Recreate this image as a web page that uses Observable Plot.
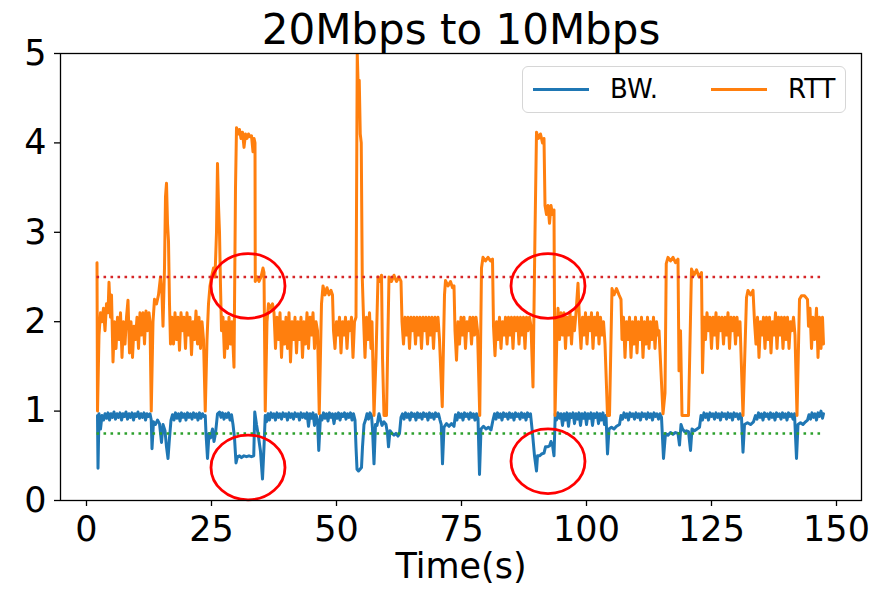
<!DOCTYPE html>
<html>
<head>
<meta charset="utf-8">
<script src="https://cdn.jsdelivr.net/npm/d3@7"></script>
<script src="https://cdn.jsdelivr.net/npm/@observablehq/plot@0.6"></script>
<style>
  body { margin: 0; background: #fff; }
  #chart { position: relative; width: 882px; height: 589px; font-family: "DejaVu Sans", sans-serif; }
  #chart svg { display: block; }
  .legend { position: absolute; left: 522px; top: 66px; width: 322px; height: 45px;
            border: 1.5px solid #d6d6d6; border-radius: 6px; background: rgba(255,255,255,0.85);
            font-family: "DejaVu Sans", sans-serif; font-size: 26px; color: #000; }
  .legend .sw { position: absolute; top: 21px; height: 3px; width: 56px; }
  .legend .lb { position: absolute; top: 5px; line-height: 34px; }
</style>
</head>
<body>
<div id="chart"></div>
<script>
// Title, axis ticks and series names
const title = "20Mbps to 10Mbps";
const xLabel = "Time(s)";
const xTicks = [0, 25, 50, 75, 100, 125, 150];
const yTicks = [0, 1, 2, 3, 4, 5];
const seriesNames = ["BW.", "RTT"];
const seriesColors = ["#1f77b4", "#ff7f0e"];

// Threshold levels (dotted guides)
const rttLimit = 2.5;
const bwLimit = 0.75;

// Highlighted regions [time, value]
const highlights = [[32.3, 2.40], [32.3, 0.37], [92.3, 2.40], [92.3, 0.44]];

// Round-trip time samples [time (s), value]
const rtt = [
  [2.1,2.66],[2.2,1.0],[2.5,1.85],[2.8,2.1],[3.1,2.0],[3.4,2.15],[3.7,1.9],[4.0,2.2],[4.3,2.1],[4.5,2.44],[4.8,2.05],[5.0,2.3],[5.3,1.55],[5.6,2.0],[5.9,1.7],[6.2,2.05],[6.5,1.8],[6.8,2.1],[7.1,1.6],[7.4,2.0],[7.7,1.75],[8.0,2.05],[8.3,2.24],[8.6,1.65],[8.9,2.0],[9.2,1.6],[9.5,1.95],[9.8,1.8],[10.1,2.05],[10.4,1.7],[10.7,2.1],[11.0,1.85],[11.3,2.1],[11.6,1.75],[11.9,2.12],[12.2,1.9],[12.5,2.1],[12.7,2.0],
  [12.95,1.0],[13.3,2.0],[13.6,2.25],[14.0,2.2],[14.4,2.3],[14.8,2.5],[15.1,2.3],[15.3,1.95],[15.6,2.6],[15.8,3.4],[16.0,3.55],[16.2,3.1],[16.4,2.9],[16.6,2.2],[16.8,1.75],[17.1,2.05],[17.4,1.75],[17.7,2.1],[18.0,1.8],[18.3,2.05],[18.6,1.68],[18.9,2.1],[19.2,1.9],[19.5,2.05],[19.8,1.7],[20.1,2.1],[20.4,1.85],[20.7,2.05],[21.0,1.63],[21.3,2.0],[21.6,1.8],[21.9,2.12],[22.2,1.75],[22.5,2.05],[22.8,1.7],[23.1,2.0],[23.4,1.8],
  [23.75,1.0],[24.1,1.8],[24.4,2.2],[24.7,2.4],[25.0,2.5],[25.4,2.6],[25.7,2.5],[26.0,3.0],[26.2,3.77],[26.4,3.3],[26.6,3.0],[26.8,2.4],[27.0,1.9],[27.3,2.05],[27.6,1.6],[27.9,2.0],[28.2,1.7],[28.5,2.05],[28.8,1.75],[29.1,2.0],
  [29.5,1.49],[29.8,3.5],[30.0,4.17],[30.3,4.1],[30.6,4.15],[30.9,4.05],[31.2,4.12],[31.5,3.95],[31.8,4.1],[32.1,4.05],[32.4,4.1],[32.7,4.07],[33.0,4.08],[33.3,3.9],[33.5,4.05],[33.7,4.0],[33.75,2.45],[34.1,2.5],[34.5,2.45],[34.9,2.5],[35.3,2.6],[35.5,2.55],
  [35.75,1.0],[36.1,2.0],[36.4,2.2],[36.8,2.15],[37.2,2.2],[37.5,2.1],[37.8,1.7],[38.1,2.05],[38.4,1.8],[38.7,2.1],[39.0,1.6],[39.3,2.0],[39.6,1.75],[39.9,2.05],[40.2,1.7],[40.5,2.1],[40.8,1.55],[41.1,2.0],[41.4,1.8],[41.7,2.05],[42.0,1.65],[42.3,2.0],[42.6,1.8],[42.9,2.05],[43.2,1.6],[43.5,2.0],[43.8,1.75],[44.1,2.1],[44.4,1.7],[44.7,2.05],[45.0,1.85],[45.3,2.1],[45.6,1.7],[45.9,2.0],[46.2,1.9],
  [46.55,0.97],[47.0,2.2],[47.3,2.4],[47.7,2.3],[48.1,2.38],[48.5,2.3],[48.9,2.35],[49.2,2.3],[49.4,1.9],[49.7,1.7],[50.0,2.0],[50.3,1.85],[50.6,2.05],[50.9,1.65],[51.2,2.0],[51.5,1.85],[51.8,2.05],[52.1,1.7],[52.4,2.0],[52.7,1.9],[53.0,2.05],[53.3,1.6],[53.6,2.0],[53.9,2.05],
  [54.15,5.0],[54.35,4.6],[54.55,4.7],[54.75,4.1],[54.95,4.0],[55.15,2.5],[55.4,2.05],[55.7,1.6],[56.0,2.05],[56.3,1.8],[56.6,2.1],[56.9,1.7],[57.1,2.0],
  [57.5,0.95],[57.9,1.6],[58.3,2.5],[58.6,2.45],[59.0,2.52],[59.2,1.6],[59.5,0.95],[60.0,0.95],[60.3,1.9],[60.5,2.5],[61.0,2.45],[61.5,2.52],[62.0,2.45],[62.5,2.5],[62.9,2.45],[63.1,2.0],[63.4,1.75],[63.7,2.05],[64.0,1.85],[64.3,2.05],[64.6,1.7],[64.9,2.05],[65.2,1.9],[65.5,2.05],[65.8,1.75],[66.1,2.05],[66.4,1.85],[66.7,2.05],[67.0,1.7],[67.3,2.05],[67.6,1.9],[67.9,2.05],[68.2,1.75],[68.5,2.05],[68.8,1.85],[69.1,2.05],[69.4,1.7],[69.7,2.05],[70.0,1.9],[70.3,2.05],[70.6,1.8],
  [71.15,1.05],[71.6,2.3],[71.8,2.46],[72.3,2.4],[72.8,2.45],[73.2,2.38],[73.5,2.4],[73.7,1.9],[74.0,1.57],[74.3,2.0],[74.6,1.75],[74.9,2.05],[75.2,1.85],[75.5,2.05],[75.8,1.7],[76.1,2.0],[76.4,1.9],[76.7,2.05],[77.0,1.75],[77.3,2.05],[77.6,1.85],[77.9,2.05],[78.2,1.9],
  [78.65,0.95],[79.0,2.6],[79.3,2.72],[79.8,2.68],[80.3,2.72],[80.8,2.68],[81.2,2.7],[81.4,1.95],[81.7,1.62],[82.0,2.0],[82.3,1.8],[82.6,2.05],[82.9,1.7],[83.2,2.0],[83.5,1.85],[83.8,2.05],[84.1,1.75],[84.4,2.05],[84.7,1.85],[85.0,2.05],[85.3,1.7],[85.6,2.05],[85.9,1.9],[86.2,2.05],[86.5,1.75],[86.8,2.05],[87.1,1.85],[87.4,2.05],[87.7,1.7],[88.0,2.05],[88.3,1.9],[88.6,2.05],[88.9,1.95],
  [89.3,1.27],[89.7,3.0],[90.0,4.12],[90.4,4.05],[90.8,4.1],[91.2,4.0],[91.5,4.05],[91.7,3.3],[92.0,3.2],[92.3,3.3],[92.6,3.1],[92.9,3.3],[93.2,3.2],[93.5,3.25],
  [93.7,0.95],[94.1,1.9],[94.3,2.15],[94.6,1.8],[94.9,2.1],[95.2,1.85],[95.5,2.1],[95.8,1.7],[96.1,2.05],[96.4,1.85],[96.7,2.1],[97.0,1.75],[97.3,2.05],[97.6,1.9],[97.9,2.1],[98.3,2.43],[98.6,2.0],[98.9,1.7],[99.2,2.05],[99.5,1.85],[99.8,2.1],[100.1,1.75],[100.4,2.05],[100.7,1.9],[101.0,2.1],[101.3,1.7],[101.6,2.05],[101.9,1.85],[102.2,2.1],[102.5,1.75],[102.8,2.05],[103.1,1.85],[103.4,2.0],[103.7,1.75],
  [104.2,0.95],[104.6,0.95],[105.1,2.37],[105.5,2.3],[106.0,2.37],[106.5,2.3],[106.9,2.25],[107.1,1.8],[107.4,2.05],[107.7,1.6],[108.0,2.0],[108.3,1.8],[108.6,2.05],[108.9,1.6],[109.2,2.0],[109.5,1.75],[109.8,2.05],[110.1,1.65],[110.4,2.0],[110.7,1.8],[111.0,2.05],[111.3,1.6],[111.6,2.0],[111.9,1.75],[112.2,2.05],[112.5,1.7],[112.8,2.0],[113.1,1.8],[113.4,2.05],[113.7,1.7],[114.0,2.0],[114.3,1.85],[114.5,1.9],
  [115.3,0.97],[115.7,1.2],[115.95,2.65],[116.3,2.72],[116.8,2.68],[117.3,2.72],[117.8,2.66],[118.3,2.7],[118.5,1.45],[118.8,1.9],[119.1,0.95],[120.4,0.95],[121.0,2.59],[121.5,2.52],[122.0,2.58],[122.5,2.5],[123.0,2.55],[123.2,1.43],[123.5,2.05],[123.8,1.8],[124.1,2.1],[124.4,1.9],[124.7,2.05],[125.0,1.7],[125.3,2.05],[125.6,1.85],[125.9,2.1],[126.2,1.7],[126.5,2.05],[126.8,1.9],[127.1,2.05],[127.4,1.75],[127.7,2.05],[128.0,1.85],[128.3,2.1],[128.6,1.7],[128.9,2.05],[129.2,1.9],[129.5,2.05],[129.8,1.75],[130.1,2.05],[130.4,1.85],[130.7,2.0],
  [131.3,0.95],[132.0,2.27],[132.3,2.35],[132.8,2.3],[133.3,2.35],[133.6,2.0],[133.9,1.75],[134.2,2.05],[134.5,1.6],[134.8,2.0],[135.1,1.85],[135.4,2.05],[135.7,1.7],[136.0,2.05],[136.3,1.8],[136.6,2.05],[136.9,1.65],[137.2,2.0],[137.5,1.85],[137.8,2.1],[138.1,1.7],[138.4,2.05],[138.7,1.85],[139.0,2.05],[139.3,1.7],[139.6,2.05],[139.9,1.8],[140.2,2.05],[140.5,1.7],[140.8,2.0],[141.1,1.9],[141.4,2.05],[141.7,1.85],
  [142.1,0.95],[142.6,2.25],[143.0,2.29],[143.6,2.29],[144.2,2.25],[144.4,1.95],[144.7,2.15],[145.0,1.7],[145.3,2.05],[145.6,1.8],[146.0,2.15],[146.3,1.6],[146.6,2.05],[146.9,1.7],[147.2,2.05],[147.4,1.75]
];

// Bandwidth samples [time (s), value]
const bw = [
  [2.2,0.95],[2.3,0.36],[2.5,0.97],[2.8,0.8],[3.1,0.95],[3.4,0.9],[3.7,0.97],[4.0,0.92],[4.3,0.98],[4.6,0.9],[4.9,0.97],[5.2,0.93],[5.5,0.99],[5.8,0.91],[6.1,0.97],[6.4,0.93],[6.7,0.98],[7.0,0.9],[7.3,0.97],[7.6,0.94],[7.9,0.99],[8.2,0.91],[8.5,0.97],[8.8,0.93],[9.1,0.98],[9.4,0.9],[9.7,0.97],[10.0,0.94],[10.3,0.99],[10.6,0.92],[10.9,0.97],[11.2,0.93],[11.5,0.98],[11.8,0.9],[12.1,0.97],[12.4,0.94],[12.7,0.97],
  [12.95,0.9],[13.1,0.58],[13.4,0.88],[13.8,0.85],[14.2,0.9],[14.6,0.86],[15.0,0.65],[15.3,0.85],[15.7,0.78],[16.0,0.6],[16.3,0.47],[16.6,0.7],[16.9,0.9],[17.2,0.96],[17.5,0.9],[17.8,0.98],[18.1,0.92],[18.4,0.97],[18.7,0.89],[19.0,0.98],[19.3,0.93],[19.6,0.97],[19.9,0.9],[20.2,0.98],[20.5,0.93],[20.8,0.97],[21.1,0.91],[21.4,0.98],[21.7,0.93],[22.0,0.97],[22.3,0.9],[22.6,0.98],[22.9,0.92],[23.2,0.97],[23.5,0.94],
  [23.75,0.95],[23.9,0.75],[24.2,0.47],[24.5,0.75],[24.8,0.7],[25.2,0.8],[25.5,0.66],[25.8,0.75],[26.2,0.97],[26.6,0.99],[26.9,0.93],[27.2,0.98],[27.5,0.91],[27.8,0.97],[28.1,0.93],[28.4,0.98],[28.7,0.9],[29.0,0.96],[29.3,0.85],
  [29.6,0.7],[29.9,0.42],[30.2,0.49],[30.6,0.5],[31.0,0.48],[31.5,0.5],[32.0,0.49],[32.5,0.5],[33.0,0.49],[33.45,0.5],[33.65,0.99],[34.0,0.85],[34.3,0.75],[34.8,0.55],[35.2,0.24],[35.5,0.6],
  [35.75,0.95],[36.0,0.88],[36.3,0.97],[36.6,0.9],[36.9,0.98],[37.2,0.93],[37.5,0.97],[37.8,0.9],[38.1,0.98],[38.4,0.93],[38.7,0.97],[39.0,0.91],[39.3,0.98],[39.6,0.94],[39.9,0.97],[40.2,0.9],[40.5,0.98],[40.8,0.93],[41.1,0.97],[41.4,0.91],[41.7,0.98],[42.0,0.94],[42.3,0.97],[42.6,0.9],[42.9,0.98],[43.2,0.93],[43.5,0.97],[43.8,0.92],[44.1,0.98],[44.4,0.83],[44.7,0.97],[45.0,0.92],[45.3,0.98],[45.6,0.84],[45.9,0.96],[46.2,0.9],
  [46.45,0.56],[46.8,0.95],[47.1,0.9],[47.4,0.98],[47.7,0.92],[48.0,0.97],[48.3,0.89],[48.6,0.98],[48.9,0.93],[49.2,0.97],[49.5,0.86],[49.8,0.97],[50.1,0.92],[50.4,0.98],[50.7,0.9],[51.0,0.97],[51.3,0.94],[51.6,0.98],[51.9,0.91],[52.2,0.97],[52.5,0.93],[52.8,0.98],[53.1,0.9],[53.4,0.97],[53.7,0.9],
  [53.9,0.6],[54.1,0.35],[54.4,0.33],[54.7,0.35],[55.0,0.37],[55.2,0.6],[55.5,0.85],[55.8,0.9],[56.1,0.97],[56.4,0.91],[56.7,0.98],[57.0,0.95],[57.2,0.8],[57.5,0.41],[57.8,0.85],[58.1,0.84],[58.5,0.97],[58.8,0.9],[59.1,0.84],[59.5,0.88],[59.9,0.85],[60.2,0.75],[60.4,0.6],[60.7,0.78],[61.1,0.75],[61.5,0.73],[61.9,0.75],[62.3,0.72],[62.6,0.75],
  [62.9,0.93],[63.2,0.97],[63.5,0.91],[63.8,0.98],[64.1,0.93],[64.4,0.97],[64.7,0.9],[65.0,0.98],[65.3,0.94],[65.6,0.97],[65.9,0.9],[66.2,0.98],[66.5,0.93],[66.8,0.97],[67.1,0.91],[67.4,0.98],[67.7,0.94],[68.0,0.97],[68.3,0.9],[68.6,0.98],[68.9,0.93],[69.2,0.97],[69.5,0.91],[69.8,0.98],[70.1,0.94],[70.4,0.97],[70.7,0.9],[70.95,0.85],
  [71.2,0.41],[71.5,0.82],[72.0,0.86],[72.5,0.83],[73.0,0.86],[73.5,0.83],[73.8,0.96],[74.1,0.9],[74.4,0.98],[74.7,0.93],[75.0,0.97],[75.3,0.9],[75.6,0.98],[75.9,0.94],[76.2,0.97],[76.5,0.91],[76.8,0.98],[77.1,0.93],[77.4,0.97],[77.7,0.9],[78.0,0.97],[78.3,0.92],
  [78.6,0.29],[78.9,0.8],[79.4,0.83],[79.9,0.8],[80.4,0.82],[80.9,0.79],[81.3,0.9],[81.6,0.97],[81.9,0.91],[82.2,0.98],[82.5,0.93],[82.8,0.97],[83.1,0.9],[83.4,0.98],[83.7,0.94],[84.0,0.97],[84.3,0.91],[84.6,0.98],[84.9,0.93],[85.2,0.97],[85.5,0.9],[85.8,0.98],[86.1,0.94],[86.4,0.97],[86.7,0.91],[87.0,0.98],[87.3,0.93],[87.6,0.97],[87.9,0.9],[88.2,0.98],[88.5,0.94],[88.8,0.97],
  [89.2,0.75],[89.6,0.5],[90.0,0.33],[90.2,0.5],[90.6,0.5],[91.0,0.52],[91.5,0.53],[91.8,0.6],[92.2,0.6],[92.6,0.61],[92.9,0.66],[93.2,0.62],[93.5,0.5],
  [93.75,0.97],[94.0,0.9],[94.3,0.98],[94.6,0.92],[94.9,0.97],[95.2,0.84],[95.5,0.97],[95.8,0.9],[96.1,0.98],[96.4,0.83],[96.7,0.97],[97.0,0.93],[97.3,0.98],[97.6,0.86],[97.9,0.97],[98.2,0.91],[98.5,0.98],[98.8,0.84],[99.1,0.97],[99.4,0.92],[99.7,0.98],[100.0,0.85],[100.3,0.97],[100.6,0.92],[100.9,0.98],[101.2,0.84],[101.5,0.97],[101.8,0.93],[102.1,0.98],[102.4,0.86],[102.7,0.97],[103.0,0.9],[103.3,0.98],[103.6,0.85],[103.9,0.95],
  [104.2,0.52],[104.5,0.8],[105.0,0.82],[105.5,0.8],[106.0,0.83],[106.6,0.85],[106.9,0.95],[107.2,0.91],[107.5,0.98],[107.8,0.93],[108.1,0.97],[108.4,0.9],[108.7,0.98],[109.0,0.94],[109.3,0.97],[109.6,0.91],[109.9,0.98],[110.2,0.93],[110.5,0.97],[110.8,0.9],[111.1,0.98],[111.4,0.94],[111.7,0.97],[112.0,0.91],[112.3,0.98],[112.6,0.93],[112.9,0.97],[113.2,0.9],[113.5,0.98],[113.8,0.94],[114.1,0.97],[114.4,0.91],[114.7,0.97],[115.0,0.93],
  [115.4,0.47],[115.8,0.75],[116.3,0.73],[116.8,0.76],[117.3,0.74],[117.8,0.76],[118.3,0.75],[118.6,0.62],[118.9,0.85],[119.2,0.8],[119.6,0.77],[120.0,0.78],[120.4,0.77],[120.8,0.56],[121.1,0.8],[121.6,0.78],[122.1,0.8],[122.6,0.82],
  [122.9,0.95],[123.2,0.9],[123.5,0.98],[123.8,0.93],[124.1,0.97],[124.4,0.9],[124.7,0.98],[125.0,0.94],[125.3,0.97],[125.6,0.91],[125.9,0.98],[126.2,0.93],[126.5,0.97],[126.8,0.9],[127.1,0.98],[127.4,0.94],[127.7,0.97],[128.0,0.91],[128.3,0.98],[128.6,0.93],[128.9,0.97],[129.2,0.9],[129.5,0.98],[129.8,0.94],[130.1,0.97],[130.4,0.91],[130.7,0.97],[131.0,0.93],
  [131.3,0.54],[131.6,0.85],[132.2,0.87],[132.8,0.85],[133.4,0.88],[133.8,0.95],[134.1,0.91],[134.4,0.98],[134.7,0.93],[135.0,0.97],[135.3,0.9],[135.6,0.98],[135.9,0.94],[136.2,0.97],[136.5,0.91],[136.8,0.98],[137.1,0.93],[137.4,0.97],[137.7,0.9],[138.0,0.98],[138.3,0.94],[138.6,0.97],[138.9,0.91],[139.2,0.98],[139.5,0.93],[139.8,0.97],[140.1,0.9],[140.4,0.98],[140.7,0.94],[141.0,0.97],[141.3,0.91],[141.6,0.97],
  [142.0,0.47],[142.3,0.85],[142.8,0.87],[143.3,0.85],[143.8,0.88],[144.2,0.9],[144.5,0.96],[144.8,0.91],[145.1,0.98],[145.4,0.93],[145.7,0.97],[146.0,0.9],[146.3,0.98],[146.6,0.94],[146.9,1.0],[147.2,0.92],[147.4,0.97]
];

const toRows = (pairs) => pairs.map(([t, v]) => ({t, v}));
const rttRows = toRows(rtt);
const bwRows = toRows(bw);
const spotRows = toRows(highlights);
const tStart = Math.min(rtt[0][0], bw[0][0]);
const tEnd = Math.max(rtt[rtt.length - 1][0], bw[bw.length - 1][0]);

// Ellipse outline used for the highlight rings (slightly wider than tall)
const ellipse = {
  draw(context, size) {
    const rx = Math.sqrt(size / Math.PI), ry = rx * 0.875, k = 0.5523;
    context.moveTo(rx, 0);
    context.bezierCurveTo(rx, ry * k, rx * k, ry, 0, ry);
    context.bezierCurveTo(-rx * k, ry, -rx, ry * k, -rx, 0);
    context.bezierCurveTo(-rx, -ry * k, -rx * k, -ry, 0, -ry);
    context.bezierCurveTo(rx * k, -ry, rx, -ry * k, rx, 0);
    context.closePath();
  }
};

const chart = Plot.plot({
  width: 882,
  height: 589,
  marginLeft: 60,
  marginRight: 21,
  marginTop: 53,
  marginBottom: 89,
  style: {fontFamily: "DejaVu Sans, sans-serif", color: "#000", background: "#fff", overflow: "visible"},
  x: {domain: [-5.2, 155], label: null},
  y: {domain: [0, 5], label: null},
  marks: [
    Plot.axisX({ticks: xTicks, tickSize: 6, tickPadding: 10, fontSize: 35, strokeWidth: 1.3, label: null}),
    Plot.axisY({ticks: yTicks, tickSize: 6, tickPadding: 8, fontSize: 35, strokeWidth: 1.3, label: null, tickFormat: d => String(d)}),
    Plot.line(bwRows, {x: "t", y: "v", stroke: seriesColors[0], strokeWidth: 3, strokeLinejoin: "round", clip: true}),
    Plot.line(rttRows, {x: "t", y: "v", stroke: seriesColors[1], strokeWidth: 3, strokeLinejoin: "round", clip: true}),
    Plot.ruleY([rttLimit], {x1: () => tStart, x2: () => tEnd, stroke: "#d62728", strokeWidth: 2.6, strokeDasharray: "2.6,4.4"}),
    Plot.ruleY([bwLimit], {x1: () => tStart, x2: () => tEnd, stroke: "#2ca02c", strokeWidth: 2.6, strokeDasharray: "2.6,4.4"}),
    Plot.dot(spotRows, {x: "t", y: "v", r: 37, symbol: ellipse, stroke: "#ff0000", strokeWidth: 2.8, fill: "none"}),
    Plot.frame({stroke: "#000", strokeWidth: 1.3}),
    Plot.text([title], {text: d => d, frameAnchor: "top", dy: -10, lineAnchor: "bottom", fontSize: 42, fill: "#000"}),
    Plot.text([xLabel], {text: d => d, frameAnchor: "bottom", dy: 77, lineAnchor: "bottom", fontSize: 35, fill: "#000"})
  ]
});

const root = document.getElementById("chart");
root.appendChild(chart);

// Legend box in the upper right corner of the plot area
const legend = document.createElement("div");
legend.className = "legend";
const items = [{sw: 10, lb: 87}, {sw: 188, lb: 265}];
seriesNames.forEach((name, i) => {
  const sw = document.createElement("div");
  sw.className = "sw";
  sw.style.left = items[i].sw + "px";
  sw.style.background = seriesColors[i];
  const lb = document.createElement("div");
  lb.className = "lb";
  lb.style.left = items[i].lb + "px";
  lb.textContent = name;
  legend.appendChild(sw);
  legend.appendChild(lb);
});
root.appendChild(legend);
</script>
</body>
</html>
